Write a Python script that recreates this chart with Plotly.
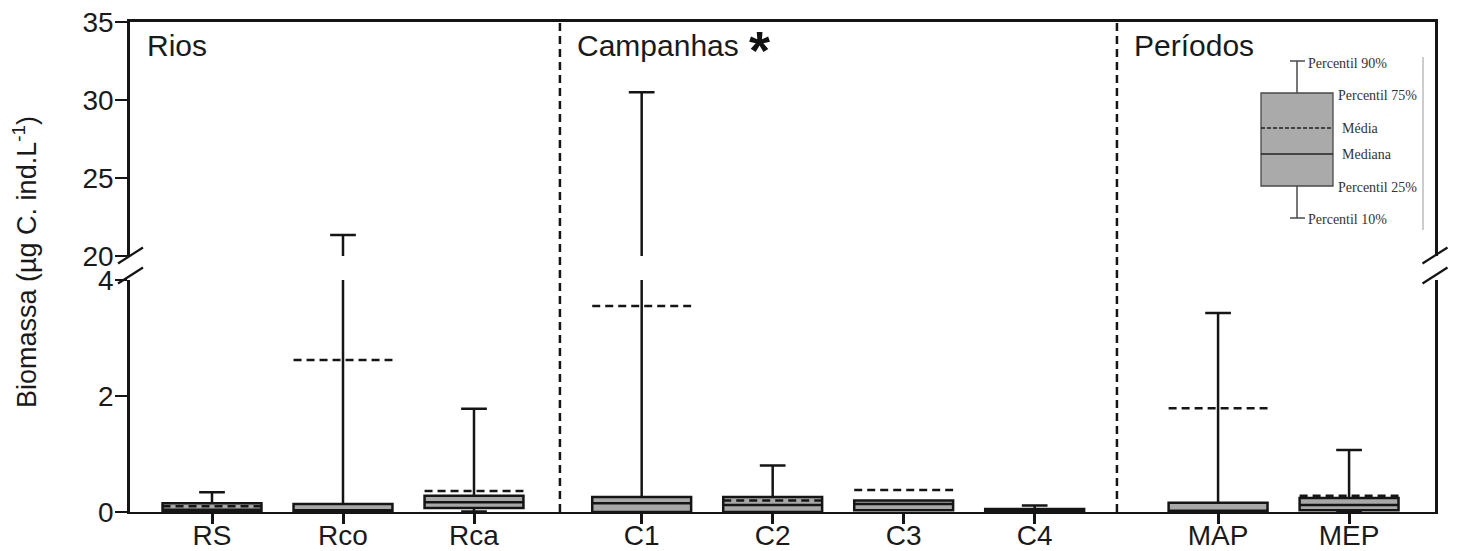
import plotly.graph_objects as go

# ---------------- data ----------------
categories = ["RS", "Rco", "Rca", "C1", "C2", "C3", "C4", "MAP", "MEP"]
groups = ["Rios", "Rios", "Rios", "Campanhas", "Campanhas", "Campanhas", "Campanhas",
          "Períodos", "Períodos"]
p10 = [0.0, 0.0, 0.01, 0.0, 0.0, 0.03, 0.0, 0.0, 0.02]
q1 = [0.0, 0.0, 0.07, 0.0, 0.0, 0.03, 0.0, 0.0, 0.03]
median = [0.04, 0.03, 0.17, 0.15, 0.12, 0.14, 0.02, 0.02, 0.12]
q3 = [0.15, 0.14, 0.28, 0.26, 0.26, 0.20, 0.05, 0.16, 0.24]
p90 = [0.34, 21.35, 1.78, 30.5, 0.80, 0.20, 0.11, 3.43, 1.07]
mean = [0.10, 2.62, 0.36, 3.55, 0.20, 0.38, 0.03, 1.79, 0.28]

group_labels = ["Rios", "Campanhas", "Períodos"]
low_ticks = [0, 2, 4]
high_ticks = [20, 25, 30, 35]

# ---------------- layout helpers ----------------
W, H = 1457, 551
group_offset = {"Rios": 0.0, "Campanhas": 0.28, "Períodos": 0.68}
xpos = [i + group_offset[g] for i, g in enumerate(groups)]
box_w = 0.755
dividers = [2.656, 6.908]

def PX(px):
    return px / W

def PY(py):
    return 1 - py / H

INK = "#151515"
FILL = "#a8a8a8"
font_sans = "Liberation Sans, Arial, sans-serif"
font_serif = "Liberation Serif, Times New Roman, serif"

fig = go.Figure()

# boxes drawn in both panels of the broken axis
for xa, ya in [("x", "y"), ("x2", "y2")]:
    fig.add_trace(go.Box(
        x=xpos, q1=q1, median=median, q3=q3, lowerfence=p10, upperfence=p90,
        orientation="v", width=box_w, whiskerwidth=0.26, boxpoints=False,
        fillcolor=FILL, line=dict(color=INK, width=2.5),
        xaxis=xa, yaxis=ya, showlegend=False, hoverinfo="skip"))
    mx, my = [], []
    for p, m in zip(xpos, mean):
        mx += [p - box_w / 2, p + box_w / 2, None]
        my += [m, m, None]
    fig.add_trace(go.Scatter(
        x=mx, y=my, mode="lines", line=dict(color=INK, width=2.5, dash="8px,5px"),
        xaxis=xa, yaxis=ya, showlegend=False, hoverinfo="skip"))

xdom = [PX(130), PX(1435)]
tickfont = dict(family=font_sans, size=28, color="#1a1a1a")

fig.update_layout(
    width=W, height=H, margin=dict(l=0, r=0, t=0, b=0),
    paper_bgcolor="white", plot_bgcolor="white",
    xaxis=dict(domain=xdom, range=[-0.626, 9.336], anchor="y",
               tickmode="array", tickvals=xpos, ticktext=categories,
               ticks="outside", ticklen=10, tickwidth=2.5, tickcolor=INK,
               ticklabelstandoff=-13,
               showline=True, linewidth=2, linecolor=INK,
               showgrid=False, zeroline=False, automargin=False,
               tickfont=dict(family=font_sans, size=28, color="#1a1a1a")),
    yaxis=dict(domain=[PY(512), PY(280)], range=[0, 4], anchor="x",
               tickmode="array", tickvals=low_ticks,
               ticks="outside", ticklen=12, tickwidth=2, tickcolor=INK,
               ticklabelstandoff=-4,
               showline=True, mirror=True, linewidth=2.5, linecolor=INK,
               showgrid=False, zeroline=False, automargin=False, tickfont=tickfont),
    xaxis2=dict(domain=xdom, matches="x", anchor="y2", side="top",
                showline=True, linewidth=2.5, linecolor=INK,
                showticklabels=False, ticks="", showgrid=False, zeroline=False,
                automargin=False),
    yaxis2=dict(domain=[PY(256), PY(22)], range=[20, 35], anchor="x2",
                tickmode="array", tickvals=high_ticks,
                ticks="outside", ticklen=12, tickwidth=2, tickcolor=INK,
                ticklabelstandoff=-4,
                showline=True, mirror=True, linewidth=2.5, linecolor=INK,
                showgrid=False, zeroline=False, automargin=False, tickfont=tickfont),
)

shapes = []
# dashed dividers between groups
for d in dividers:
    shapes.append(dict(type="line", xref="x", yref="paper", x0=d, x1=d,
                       y0=PY(512), y1=PY(22), line=dict(color=INK, width=2.5, dash="8px,5px")))
# break marks on left and right axes
for cx in [130.5, 1435]:
    for cy in [255.5, 275.5]:
        shapes.append(dict(type="line", xref="paper", yref="paper",
                           x0=PX(cx - 12.5), y0=PY(cy + 8), x1=PX(cx + 12.5), y1=PY(cy - 8),
                           line=dict(color=INK, width=2.2)))

# inset legend (explanation of the box elements)
LG = "#4a4a4a"
shapes += [
    dict(type="line", xref="paper", yref="paper", x0=PX(1423), x1=PX(1423), y0=PY(57), y1=PY(230),
         line=dict(color="#9a9a9a", width=1)),
    dict(type="line", xref="paper", yref="paper", x0=PX(1297), x1=PX(1297), y0=PY(61), y1=PY(93),
         line=dict(color=LG, width=1.5)),
    dict(type="line", xref="paper", yref="paper", x0=PX(1297), x1=PX(1297), y0=PY(186), y1=PY(218),
         line=dict(color=LG, width=1.5)),
    dict(type="line", xref="paper", yref="paper", x0=PX(1290), x1=PX(1305), y0=PY(61), y1=PY(61),
         line=dict(color=LG, width=1.5)),
    dict(type="line", xref="paper", yref="paper", x0=PX(1290), x1=PX(1305), y0=PY(218), y1=PY(218),
         line=dict(color=LG, width=1.5)),
    dict(type="rect", xref="paper", yref="paper", x0=PX(1261), x1=PX(1333), y0=PY(186), y1=PY(93),
         fillcolor="#aaaaaa", line=dict(color=LG, width=1.3)),
    dict(type="line", xref="paper", yref="paper", x0=PX(1261), x1=PX(1333), y0=PY(128), y1=PY(128),
         line=dict(color="#222", width=1.3, dash="4px,2px")),
    dict(type="line", xref="paper", yref="paper", x0=PX(1261), x1=PX(1333), y0=PY(154), y1=PY(154),
         line=dict(color="#222", width=1.3)),
]
fig.update_layout(shapes=shapes)

ann = []
legend_texts = [("Percentil 90%", 1306, 63), ("Percentil 75%", 1336, 95), ("Média", 1340, 128),
                ("Mediana", 1340, 154), ("Percentil 25%", 1336, 187), ("Percentil 10%", 1306, 220)]
for t, x, y in legend_texts:
    ann.append(dict(text=t, xref="paper", yref="paper", x=PX(x), y=PY(y), xanchor="left",
                    yanchor="middle", showarrow=False,
                    font=dict(family=font_serif, size=14, color="#333")))

for t, x in zip(group_labels, [145, 575, 1132]):
    ann.append(dict(text=t, xref="paper", yref="paper", x=PX(x), y=PY(46), xanchor="left",
                    yanchor="middle", showarrow=False,
                    font=dict(family=font_sans, size=30, color="#1a1a1a")))
ann.append(dict(text="<b>*</b>", xref="paper", yref="paper", x=PX(759), y=PY(50),
                xanchor="center", yanchor="middle", showarrow=False,
                font=dict(family=font_sans, size=54, color="#111")))
ann.append(dict(text="Biomassa (µg C. ind.L<sup>-1</sup>)", xref="paper", yref="paper",
                x=PX(25), y=PY(262), xanchor="center", yanchor="middle", textangle=-90,
                showarrow=False, font=dict(family=font_sans, size=27, color="#1a1a1a")))
fig.update_layout(annotations=ann)

fig.write_html("out.html")
